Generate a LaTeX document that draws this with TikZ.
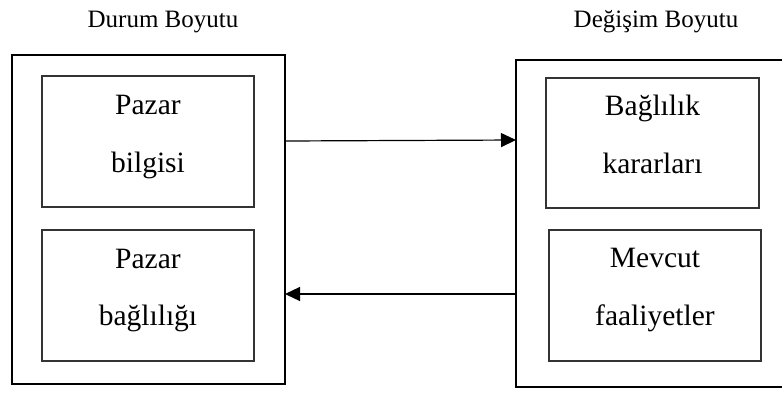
\documentclass[tikz,border=0pt]{standalone}
\usepackage{fontspec}
\setmainfont{Liberation Serif}
\usetikzlibrary{arrows.meta}
\begin{document}
\begin{tikzpicture}[x=1pt,y=-1pt,
  outerbox/.style={draw=black,line width=2.6pt,inner sep=0pt,outer sep=0pt},
  innerbox/.style={draw=black!80,line width=1.3pt,inner sep=0pt,outer sep=0pt},
  body/.style={font=\fontsize{29.5}{34}\selectfont,anchor=base,inner sep=0pt},
  title/.style={font=\fontsize{25}{29}\selectfont,anchor=base,inner sep=0pt},
  link/.style={line width=1.2pt,-{Triangle[length=15pt,width=14pt]}}]
\useasboundingbox (0,0) rectangle (782,392);
\fill[white] (0,0) rectangle (782,392);

% titles
\node[title] (t1) at (163,27) {Durum Boyutu};
\node[title] (t2) at (656,27) {Değişim Boyutu};

% outer frames
\node[outerbox,minimum width=273pt,minimum height=329pt] (L) at (148.5,219.5) {};
\node[outerbox,minimum width=280pt,minimum height=327pt] (R) at (656,223.5) {};

% inner boxes
\node[innerbox,minimum width=212pt,minimum height=131pt] (L1) at (148,141.5) {};
\node[innerbox,minimum width=212pt,minimum height=131pt] (L2) at (148,295.5) {};
\node[innerbox,minimum width=213pt,minimum height=130pt] (R1) at (652.5,143) {};
\node[innerbox,minimum width=212pt,minimum height=131pt] (R2) at (655,295.5) {};

% labels
\node[body] (l1a) at (148,114) {Pazar};
\node[body] (l1b) at (148,172) {bilgisi};
\node[body] (l2a) at (148,268) {Pazar};
\node[body] (l2b) at (148,325) {bağlılığı};
\node[body] (r1a) at (652.5,115) {Bağlılık};
\node[body] (r1b) at (652.5,173) {kararları};
\node[body] (r2a) at (655,267) {Mevcut};
\node[body] (r2b) at (655,325) {faaliyetler};

% connectors between the two frames
\draw[link] ([yshift=78.5pt]L.east) -- ([yshift=83.5pt]R.west);
\draw[link] ([yshift=-70.5pt]R.west) -- ([yshift=-74.5pt]L.east);
\end{tikzpicture}
\end{document}
